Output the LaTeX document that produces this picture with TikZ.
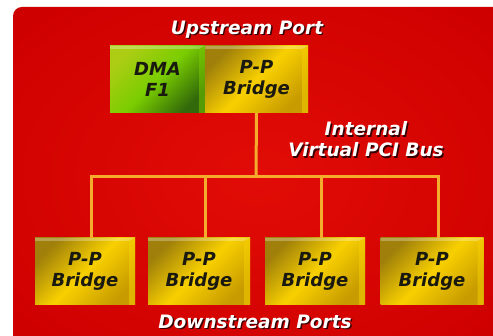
\documentclass[tikz,border=0pt]{standalone}
\usepackage{fontspec}
\usepackage{xcolor}
\usepackage{tikz}
\usetikzlibrary{positioning, calc}
\newfontfamily\boxfam{DejaVu Sans}
\newfontfamily\lblfam{DejaVu Sans}
\definecolor{redhi}{RGB}{225,12,6}
\definecolor{redmid}{RGB}{206,0,0}
\definecolor{redlow}{RGB}{165,0,0}
\definecolor{reddark}{RGB}{100,0,0}
\definecolor{busorange}{RGB}{245,172,45}
\definecolor{goldtop}{RGB}{160,128,10}
\definecolor{goldmid}{RGB}{248,208,0}
\definecolor{goldbot}{RGB}{200,155,0}
\definecolor{limetop}{RGB}{172,205,20}
\definecolor{limemid}{RGB}{122,205,0}
\definecolor{limebot}{RGB}{50,105,10}
\definecolor{inkdark}{RGB}{25,25,15}
\definecolor{shadowcol}{RGB}{55,0,0}
\pgfdeclareradialshading{redglow}{\pgfpoint{0bp}{0bp}}{color(0bp)=(redhi); color(34bp)=(redmid); color(50bp)=(redlow); color(72bp)=(reddark)}
\newcommand{\shtext}[1]{\makebox[0pt][l]{\hspace{1.4pt}\raisebox{-1.4pt}{\textcolor{shadowcol}{#1}}}#1}
\tikzset{
  bevel/.style={path picture={
    \fill[white, opacity=0.28] (path picture bounding box.north west) -- (path picture bounding box.north east)
      -- ([xshift=-6pt, yshift=-3pt]path picture bounding box.north east) -- ([yshift=-3pt]path picture bounding box.north west) -- cycle;
    \fill[#1, opacity=0.5] (path picture bounding box.north east) -- (path picture bounding box.south east)
      -- ([xshift=-6pt]path picture bounding box.south east) -- ([xshift=-6pt, yshift=-3pt]path picture bounding box.north east) -- cycle;}},
  bridgebox/.style={rectangle, inner sep=0pt, minimum width=100pt, minimum height=67pt,
    align=center, text=inkdark, font={\boxfam\fontsize{18}{21}\selectfont\bfseries\itshape},
    top color=goldtop, bottom color=goldbot, middle color=goldmid, shading angle=45, bevel=goldmid},
  dmabox/.style={rectangle, inner sep=0pt, minimum width=95pt, minimum height=67pt,
    align=center, text=inkdark, font={\boxfam\fontsize{18}{21}\selectfont\bfseries\itshape},
    top color=limetop, bottom color=limebot, middle color=limemid, shading angle=45, bevel=limemid},
  busline/.style={line width=3pt, color=busorange},
  lbl/.style={text=white, align=center, inner sep=0pt, font={\lblfam\fontsize{18.5}{21}\selectfont\bfseries\itshape}}
}
\begin{document}
\begin{tikzpicture}[x=1pt, y=-1pt]
\useasboundingbox (0,0) rectangle (493,336);
\fill[white] (0,0) rectangle (493,336);
\clip (0,0) rectangle (493,336);
\shade[shading=redglow, rounded corners=9pt] (13,7) rectangle (502,346);

% Upstream
\node[lbl] (up) at (247,30) {\shtext{Upstream Port}};
\node[dmabox] (dma) at (157.5,79.5) {DMA\\F1};
\node[bridgebox, minimum width=103pt] (upbr) at (256.5,79.5) {P-P\\Bridge};

% Virtual bus
\node[lbl] (vbus) at (366,140) {\shtext{Internal}\\\shtext{Virtual PCI Bus}};
\coordinate (bus) at (256,177);

% Downstream
\node[bridgebox] (d1) at (85,271.5) {P-P\\Bridge};
\node[bridgebox, minimum width=102pt] (d2) at (199,271.5) {P-P\\Bridge};
\node[bridgebox] (d3) at (315,271.5) {P-P\\Bridge};
\node[bridgebox, minimum width=103pt] (d4) at (432,271.5) {P-P\\Bridge};
\node[lbl] (down) at (255,322.5) {\shtext{Downstream Ports}};

\foreach \i in {1,...,4}
  \coordinate (t\i) at ([xshift=6pt]d\i.north);
\draw[busline] (upbr.south) -- (bus);
\draw[busline] (t1) |- (bus) -| (t4);
\draw[busline] (t2) -- (t2 |- bus);
\draw[busline] (t3) -- (t3 |- bus);
\end{tikzpicture}
\end{document}
